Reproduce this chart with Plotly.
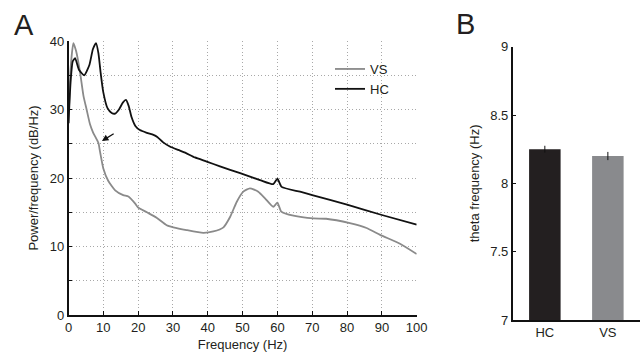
import plotly.graph_objects as go

# ---- Panel A data: power spectra ----
freq_hc = [0, 0.6, 1.2, 1.9, 3.0, 4.5, 6.0, 7.0, 7.9, 8.6, 9.2, 10.0, 11.2, 12.4, 13.4,
           14.5, 15.6, 16.5, 17.3, 18.1, 19.2, 20.5, 22.5, 24.4, 25.5, 27.2, 29.1, 31.5,
           33.5, 36.3, 39.7, 43.5, 49.3, 55.0, 58.8, 60.0, 61.2, 66.5, 70, 80, 90, 100]
power_hc = [28.0, 34.0, 37.0, 37.5, 35.8, 35.0, 36.5, 38.8, 39.7, 38.2, 35.5, 32.5, 30.2,
            29.5, 29.4, 30.0, 31.0, 31.4, 30.5, 28.9, 27.6, 27.0, 26.6, 26.3, 26.0, 25.2,
            24.6, 24.1, 23.7, 23.0, 22.4, 21.7, 20.7, 19.7, 19.1, 19.9, 18.7, 18.0, 17.5,
            16.1, 14.6, 13.2]

freq_vs = [0, 0.6, 1.4, 2.2, 3.3, 4.3, 5.2, 6.2, 7.1, 8.6, 9.0, 10.0, 11.4, 13.4, 15.7,
           17.2, 19.1, 20.0, 22.5, 25.3, 28.2, 30.1, 33.9, 38.7, 41.6, 44.5, 46.4, 48.3,
           50.2, 52.1, 54.5, 56.5, 58.8, 60.0, 61.1, 64.6, 70.3, 74.0, 80.8, 85.6, 89.5,
           95.2, 100]
power_vs = [28.0, 36.0, 39.7, 38.5, 35.5, 32.0, 30.0, 27.8, 26.6, 25.1, 24.0, 21.4, 19.6,
            18.2, 17.5, 17.3, 16.3, 15.7, 15.0, 14.2, 13.1, 12.8, 12.4, 12.0, 12.2, 12.8,
            14.3, 16.5, 18.0, 18.5, 18.0, 17.0, 15.8, 16.4, 15.1, 14.5, 14.1, 14.05, 13.4,
            12.7, 11.7, 10.4, 8.9]

# arrow (tail -> head) in data units
arrow_tail = (13.4, 26.6)
arrow_head = (9.6, 25.4)

# ---- Panel B data: theta frequency ----
regions = ["HC", "VS"]
theta_freq = [8.25, 8.20]
theta_err = [0.025, 0.03]
bar_colors = ["#231f20", "#898a8d"]

x_ticks_a = list(range(0, 101, 10))
x_grid_a = list(range(10, 100, 10))
y_ticks_a = list(range(0, 41, 5))
y_grid_a = list(range(5, 40, 5))
y_ticklabels_a = [str(v) if v % 10 == 0 else "" for v in y_ticks_a]
y_ticks_b = [7, 7.5, 8, 8.5, 9]
y_ticklabels_b = ["7", "7.5", "8", "8.5", "9"]

W, H = 644, 358
FONT = "Liberation Sans, Arial, Helvetica, sans-serif"
TXT = "#231f20"
GRID = dict(showgrid=True, gridcolor="#a8a8a8", griddash="1px,2.5px", gridwidth=1)

def px(x):
    return x / W

def py(y):
    return (H - y) / H

fig = go.Figure()

# empty trace to create the grid overlay subplot
fig.add_trace(go.Scatter(x=[], y=[], xaxis="x3", yaxis="y3", showlegend=False,
                         hoverinfo="skip"))

fig.add_trace(go.Scatter(x=freq_vs, y=power_vs, mode="lines", name="VS",
                         line=dict(color="#8a8a8a", width=1.8, shape="spline", smoothing=0.5),
                         xaxis="x", yaxis="y"))
fig.add_trace(go.Scatter(x=freq_hc, y=power_hc, mode="lines", name="HC",
                         line=dict(color="#111111", width=1.8, shape="spline", smoothing=0.5),
                         xaxis="x", yaxis="y"))

fig.add_trace(go.Bar(x=regions, y=[v - 7 for v in theta_freq], base=7,
                     marker=dict(color=bar_colors, line=dict(width=0)),
                     width=0.5, showlegend=False,
                     error_y=dict(type="data", array=theta_err, color="#111111",
                                  thickness=1, width=0),
                     xaxis="x2", yaxis="y2"))

axis_common = dict(showline=True, linecolor="#111111", linewidth=1.5, zeroline=False,
                   ticks="inside", ticklen=4, tickcolor="#111111",
                   tickfont=dict(size=13, color=TXT, family=FONT))

dom_x_a = [px(68.5), px(416.7)]
dom_y_a = [py(315), py(41)]

fig.update_layout(
    width=W, height=H,
    margin=dict(l=0, r=0, t=0, b=0, autoexpand=False),
    paper_bgcolor="white", plot_bgcolor="white",
    font=dict(family=FONT, color=TXT),
    showlegend=True,
    legend=dict(x=px(330), y=py(54), xanchor="left", yanchor="top",
                bgcolor="rgba(0,0,0,0)", font=dict(size=13, color=TXT, family=FONT),
                tracegroupgap=0, itemwidth=30),
    xaxis=dict(domain=dom_x_a, range=[0, 100], tickvals=x_ticks_a, showgrid=False,
               title=dict(text="Frequency (Hz)", font=dict(size=13, color=TXT), standoff=6),
               anchor="y", **axis_common),
    yaxis=dict(domain=dom_y_a, range=[0, 40], tickvals=y_ticks_a,
               ticktext=y_ticklabels_a, showgrid=False,
               title=dict(text="Power/frequency (dB/Hz)", font=dict(size=13, color=TXT), standoff=8),
               anchor="x", **axis_common),
    xaxis3=dict(domain=dom_x_a, range=[0, 100], tickvals=x_grid_a, overlaying="x",
                anchor="y3", showticklabels=False, ticks="", showline=False,
                zeroline=False, **GRID),
    yaxis3=dict(domain=dom_y_a, range=[0, 40], tickvals=y_grid_a, overlaying="y",
                anchor="x3", showticklabels=False, ticks="", showline=False,
                zeroline=False, **GRID),
    xaxis2=dict(domain=[px(512.7), px(640)], range=[-0.51, 1.51], type="category",
                showline=True, linecolor="#111111", linewidth=1.5, ticks="",
                tickfont=dict(size=13, color=TXT, family=FONT), anchor="y2",
                showgrid=False),
    yaxis2=dict(domain=[py(320), py(46.7)], range=[7, 9], tickvals=y_ticks_b,
                ticktext=y_ticklabels_b, showgrid=False,
                title=dict(text="theta frequency (Hz)", font=dict(size=13, color=TXT), standoff=8),
                anchor="x2", **axis_common),
    annotations=[
        dict(text="A", x=px(12), y=py(25), xref="paper", yref="paper", showarrow=False,
             xanchor="left", yanchor="middle", font=dict(size=29, color=TXT, family=FONT)),
        dict(text="B", x=px(454), y=py(24), xref="paper", yref="paper", showarrow=False,
             xanchor="left", yanchor="middle", font=dict(size=29, color=TXT, family=FONT)),
        dict(text="", x=arrow_head[0], y=arrow_head[1], xref="x", yref="y",
             ax=arrow_tail[0], ay=arrow_tail[1], axref="x", ayref="y",
             showarrow=True, arrowhead=2, arrowsize=1, arrowwidth=1.3, arrowcolor="#111111"),
    ],
)

fig.write_html("out.html")
